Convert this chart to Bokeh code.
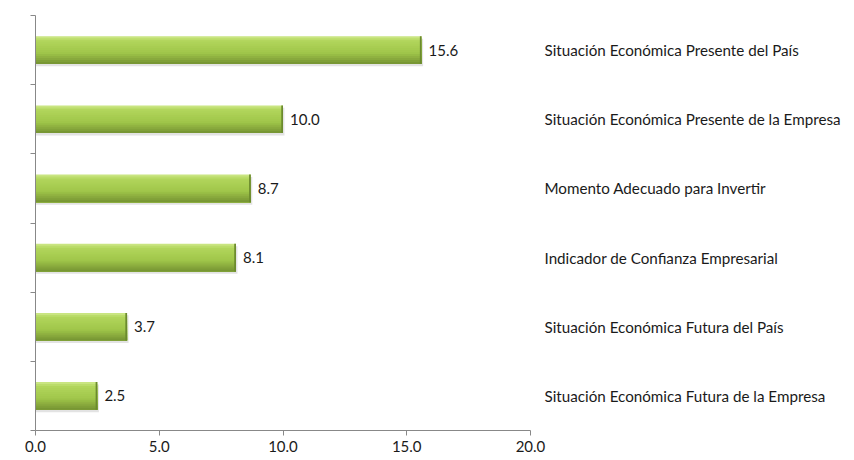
from bokeh.plotting import figure
from bokeh.models import Range1d, FixedTicker, ColumnDataSource, CustomJSTickFormatter
from bokeh.core.properties import value
from bokeh.embed import file_html
from bokeh.resources import INLINE

categories = [
    "Situación Económica Futura de la Empresa",
    "Situación Económica Futura del País",
    "Indicador de Confianza Empresarial",
    "Momento Adecuado para Invertir",
    "Situación Económica Presente de la Empresa",
    "Situación Económica Presente del País",
]
values = [2.5, 3.7, 8.1, 8.7, 10.0, 15.6]
x_ticks = [0, 5, 10, 15, 20]

FONT = "Lato"
LEFT, TOP, FRAME_H = 35, 15, 415
W, H = 846, 452
PX_PER_UNIT = 495 / 20.0
frame_w = W - LEFT
xmax = frame_w / PX_PER_UNIT

p = figure(width=W, height=H, output_backend="svg", toolbar_location=None,
           x_range=Range1d(0, xmax), y_range=Range1d(0, len(categories)),
           min_border_left=LEFT, min_border_top=TOP, min_border_right=0,
           min_border_bottom=H - TOP - FRAME_H)
p.frame_width = frame_w
p.frame_height = FRAME_H
p.outline_line_color = None
p.xgrid.visible = False
p.ygrid.visible = False
p.background_fill_color = "white"
p.border_fill_color = "white"

ys = [i + 0.5 for i in range(len(categories))]
bar_h = 0.40

# shadow
p.hbar(y=[y - 0.035 for y in ys], left=0, right=[v + 0.06 for v in values], height=bar_h,
       fill_color="#d0d0d0", line_color=None, fill_alpha=0.6)

def lerp(c1, c2, t):
    return "#%02x%02x%02x" % tuple(int(round(a + (b - a) * t)) for a, b in zip(c1, c2))

stops = [(0.0, (208, 234, 140)), (0.15, (178, 214, 92)), (0.6, (160, 198, 74)), (1.0, (116, 146, 50))]
N = 14
strip_h = bar_h / N
for k in range(N):
    t = (k + 0.5) / N
    for j in range(len(stops) - 1):
        if stops[j][0] <= t <= stops[j + 1][0]:
            tt = (t - stops[j][0]) / (stops[j + 1][0] - stops[j][0])
            col = lerp(stops[j][1], stops[j + 1][1], tt)
            break
    h = bar_h - k * strip_h
    yc = [y - bar_h / 2 + h / 2 for y in ys]
    p.hbar(y=yc, left=0, right=values, height=h, fill_color=col, line_color=None)

# dark right edge
p.hbar(y=ys, left=[v - 0.07 for v in values], right=values, height=bar_h,
       fill_color="#6b8a2e", line_color=None)

src = ColumnDataSource(dict(x=values, y=ys, t=["%.1f" % v for v in values]))
p.text(x="x", y="y", text="t", source=src, x_offset=7, text_baseline="middle",
       text_font=value(FONT), text_font_size="15px", text_color="#1a1a1a")

lsrc = ColumnDataSource(dict(x=[20.0] * len(categories), y=ys, t=categories))
p.text(x="x", y="y", text="t", source=lsrc, x_offset=14, text_baseline="middle",
       text_font=value(FONT), text_font_size="15.2px", text_color="#1a1a1a")

# axes
p.xaxis.bounds = (0, 20)
p.xaxis.ticker = FixedTicker(ticks=x_ticks)
p.xaxis.formatter = CustomJSTickFormatter(code="return tick.toFixed(1);")
p.xaxis.minor_tick_line_color = None
p.xaxis.major_tick_in = 0
p.xaxis.major_tick_out = 5
p.xaxis.axis_line_color = "#888888"
p.xaxis.major_tick_line_color = "#888888"
p.xaxis.major_label_text_font = FONT
p.xaxis.major_label_text_font_size = "15px"
p.xaxis.major_label_text_color = "#1a1a1a"
p.xaxis.major_label_standoff = 5

p.yaxis.ticker = FixedTicker(ticks=list(range(len(categories) + 1)))
p.yaxis.major_label_overrides = {i: "" for i in range(len(categories) + 1)}
p.yaxis.minor_tick_line_color = None
p.yaxis.major_tick_in = 0
p.yaxis.major_tick_out = 5
p.yaxis.axis_line_color = "#888888"
p.yaxis.major_tick_line_color = "#888888"
p.yaxis.major_label_standoff = 0

open("out.html", "w").write(file_html(p, INLINE))
